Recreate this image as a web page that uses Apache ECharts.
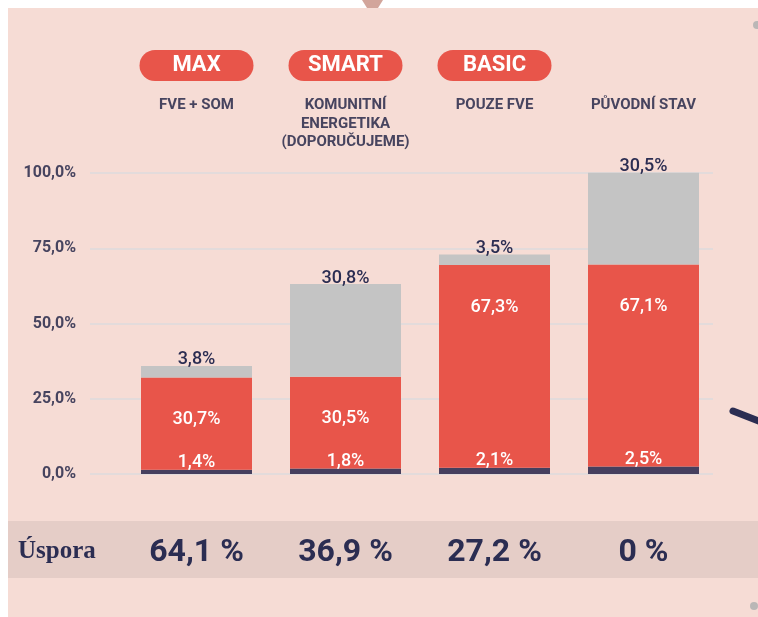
<!DOCTYPE html>
<html>
<head>
<meta charset="utf-8">
<script src="https://cdn.jsdelivr.net/npm/echarts@6/dist/echarts.min.js"></script>
<style>
  html, body { margin: 0; padding: 0; background: #fff; }
  #chart { width: 758px; height: 617px; }
</style>
</head>
<body>
<div id="chart"></div>
<script>
const plans = ['MAX', 'SMART', 'BASIC', '']
const descriptions = ['FVE + SOM', 'KOMUNITNÍ\nENERGETIKA\n(DOPORUČUJEME)', 'POUZE FVE', 'PŮVODNÍ STAV']
const baseShare = [1.4, 1.8, 2.1, 2.5]
const mainShare = [30.7, 30.5, 67.3, 67.1]
const topShare = [3.8, 30.8, 3.5, 30.5]
const savings = [64.1, 36.9, 27.2, 0]
const yTicks = { min: 0, max: 100, interval: 25 }

const navy = '#2b2d52'
const slate = '#47445f'
const red = '#e8554a'
const font = 'Roboto, "Noto Sans", sans-serif'

const pct = (v) => v.toFixed(1).replace('.', ',') + '%'
const saving = (v) => (v === 0 ? '0' : v.toFixed(1).replace('.', ',')) + ' %'

const chart = echarts.init(document.getElementById('chart'))

function segment(name, data, color, label) {
  return {
    name,
    type: 'bar',
    stack: 'share',
    xAxisIndex: 1,
    yAxisIndex: 1,
    barWidth: 111,
    clip: false,
    data,
    itemStyle: { color },
    label: Object.assign({
      show: true,
      fontFamily: font,
      fontWeight: 500,
      fontSize: 18,
      formatter: (p) => pct(p.value),
    }, label),
  }
}

chart.setOption({
  backgroundColor: '#fff',
  animation: false,
  graphic: [
    { type: 'rect', z: -10, shape: { x: 8, y: 8, width: 760, height: 620 }, style: { fill: '#f6dcd5' } },
    { type: 'rect', z: -9, shape: { x: 8, y: 521, width: 760, height: 57 }, style: { fill: '#e5cdc7' } },
    { type: 'polygon', shape: { points: [[362, 0], [383, 0], [378, 8], [367, 8]] }, style: { fill: '#d2a59b' } },
    { type: 'line', shape: { x1: 733, y1: 411, x2: 764, y2: 423 }, style: { stroke: navy, lineWidth: 7, lineCap: 'round' } },
    { type: 'circle', shape: { cx: 757, cy: 25, r: 4 }, style: { fill: '#bab7b6' } },
    { type: 'circle', shape: { cx: 754, cy: 606, r: 4 }, style: { fill: '#bab7b6' } },
    {
      type: 'text', left: 18, top: 539,
      style: { text: 'Úspora', fill: navy, font: 'bold 25px "Liberation Serif", "DejaVu Serif", serif' },
    },
  ],
  grid: [
    { left: 90, right: 45, top: 173, bottom: 143 },
    { left: 122, right: 40, top: 173, bottom: 143 },
  ],
  xAxis: [
    { gridIndex: 0, type: 'value', min: 0, max: 1, show: false },
    {
      gridIndex: 1, type: 'category', data: plans, position: 'bottom',
      axisLine: { show: false }, axisTick: { show: false }, axisLabel: { show: false },
    },
    {
      gridIndex: 1, type: 'category', data: plans, position: 'top',
      axisLine: { show: false }, axisTick: { show: false },
      axisLabel: {
        interval: 0, margin: 107.5, verticalAlign: 'middle',
        formatter: (v) => (v ? '{p|' + v + '}' : ''),
        rich: {
          p: {
            backgroundColor: red, borderRadius: 16, width: 114, height: 31, lineHeight: 31,
            align: 'center', color: '#fff', fontFamily: font, fontWeight: 'bold', fontSize: 22,
          },
        },
      },
    },
    {
      gridIndex: 1, type: 'category', data: descriptions, position: 'top', offset: 0,
      axisLine: { show: false }, axisTick: { show: false },
      axisLabel: {
        interval: 0, margin: 77, verticalAlign: 'top', align: 'center',
        color: slate, fontFamily: font, fontWeight: 'bold', fontSize: 15, lineHeight: 18.5,
      },
    },
    {
      gridIndex: 1, type: 'category', data: savings, position: 'bottom',
      axisLine: { show: false }, axisTick: { show: false },
      axisLabel: {
        interval: 0, margin: 78.5, verticalAlign: 'middle',
        color: navy, fontFamily: font, fontWeight: 'bold', fontSize: 32,
        formatter: (v) => saving(Number(v)),
      },
    },
  ],
  yAxis: [
    {
      gridIndex: 0, type: 'value', min: yTicks.min, max: yTicks.max, interval: yTicks.interval,
      axisLine: { show: false }, axisTick: { show: false },
      axisLabel: {
        margin: 14, color: slate, fontFamily: font, fontWeight: 'bold', fontSize: 16,
        formatter: (v) => pct(v),
      },
      splitLine: { lineStyle: { color: '#e3dbdb', width: 2 } },
    },
    { gridIndex: 1, type: 'value', min: yTicks.min, max: yTicks.max, show: false },
  ],
  series: [
    segment('base', baseShare, '#463f5e', { position: 'top', distance: -2, color: '#fff' }),
    segment('main', mainShare, red, { position: 'insideTop', distance: 33, color: '#fff' }),
    segment('rest', topShare, '#c4c4c4', { position: 'top', distance: -3, color: navy }),
  ],
})
</script>
</body>
</html>
